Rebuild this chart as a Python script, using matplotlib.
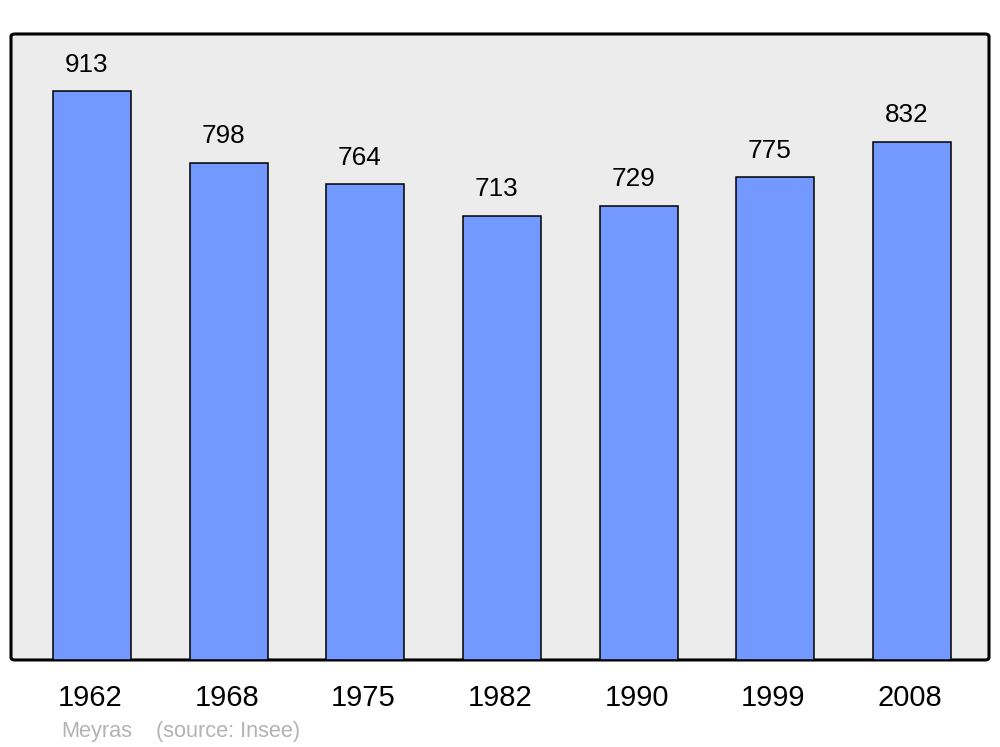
import matplotlib

matplotlib.use("Agg")
import matplotlib.pyplot as plt
import matplotlib.transforms as mtransforms
from matplotlib.patches import FancyBboxPatch

# data
years = ["1962", "1968", "1975", "1982", "1990", "1999", "2008"]
population = [913, 798, 764, 713, 729, 775, 832]
commune = "Meyras"
source = "(source: Insee)"

plt.rcParams["font.family"] = ["Liberation Sans", "DejaVu Sans"]

fig = plt.figure(figsize=(10, 7.47), dpi=100)
ax = fig.add_axes([0.011, 0.1165, 0.978, 0.838])
ax.set_facecolor("none")

# grey background box with rounded corners
frame = FancyBboxPatch(
    (0, 0), 1, 1, boxstyle="round,pad=0,rounding_size=0.004",
    transform=ax.transAxes, facecolor="#ececec", edgecolor="black",
    linewidth=2.2, zorder=0, clip_on=False,
)
ax.add_patch(frame)

x = list(range(len(years)))
bars = ax.bar(x, population, width=0.57, color="#7399ff", edgecolor="black",
              linewidth=1.1, zorder=2)

for xi, val in zip(x, population):
    ax.annotate(str(val), (xi, val), xytext=(-4, 14), textcoords="offset points",
                ha="center", va="baseline", fontsize=18.8)

ax.set_xlim(-0.593, 6.563)
ax.set_ylim(0, 1005)
ax.set_yticks([])
ax.set_xticks(x)
ax.set_xticklabels(years, fontsize=21)
ax.tick_params(axis="x", length=0, pad=17)
# year labels sit a touch left of the bar centres
shift = mtransforms.ScaledTranslation(-2 / 100, 0, fig.dpi_scale_trans)
for lbl in ax.get_xticklabels():
    lbl.set_transform(lbl.get_transform() + shift)
for s in ax.spines.values():
    s.set_visible(False)

fig.text(0.061, 1 - 731 / 747, commune, fontsize=15.7, color="#b3b3b3", va="center")
fig.text(0.156, 1 - 731 / 747, source, fontsize=15.7, color="#b3b3b3", va="center")

fig.savefig("out.png", dpi=100)
